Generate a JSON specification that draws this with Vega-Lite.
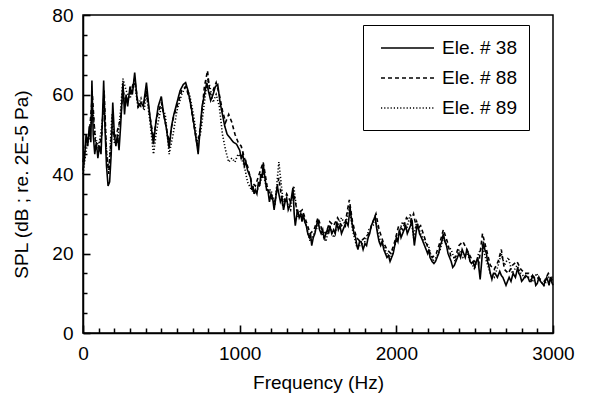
{
  "$schema": "https://vega.github.io/schema/vega-lite/v6.json",
  "autosize": {"type": "none"},
  "width": 470,
  "height": 318,
  "padding": {"left": 83, "top": 15, "right": 39, "bottom": 61},
  "background": "white",
  "config": {
    "font": "Liberation Sans",
    "view": {"stroke": "black", "strokeWidth": 1.5},
    "axis": {"labelFont": "Liberation Sans", "titleFont": "Liberation Sans", "labelColor": "black", "titleColor": "black", "domainColor": "black", "grid": false, "titleFontWeight": "normal"}
  },
  "data": {"values": [
    {"s":"38","f":0,"v":41},{"s":"38","f":10,"v":44},{"s":"38","f":20,"v":50},{"s":"38","f":30,"v":47},{"s":"38","f":40,"v":52},{"s":"38","f":50,"v":48},{"s":"38","f":57,"v":63.5},{"s":"38","f":65,"v":50},{"s":"38","f":75,"v":45},{"s":"38","f":85,"v":48},{"s":"38","f":95,"v":44},{"s":"38","f":105,"v":47},{"s":"38","f":115,"v":45},{"s":"38","f":125,"v":55},{"s":"38","f":132,"v":63.5},{"s":"38","f":140,"v":52},{"s":"38","f":150,"v":42},{"s":"38","f":160,"v":37},{"s":"38","f":170,"v":38},{"s":"38","f":180,"v":45},{"s":"38","f":190,"v":58},{"s":"38","f":200,"v":50},{"s":"38","f":210,"v":47},{"s":"38","f":220,"v":50},{"s":"38","f":230,"v":46},{"s":"38","f":240,"v":52},{"s":"38","f":255,"v":63},{"s":"38","f":265,"v":55},{"s":"38","f":275,"v":60},{"s":"38","f":285,"v":57},{"s":"38","f":300,"v":62},{"s":"38","f":315,"v":60},{"s":"38","f":330,"v":65.5},{"s":"38","f":345,"v":59},{"s":"38","f":355,"v":57},{"s":"38","f":370,"v":58},{"s":"38","f":385,"v":57},{"s":"38","f":405,"v":63},{"s":"38","f":420,"v":57},{"s":"38","f":435,"v":52},{"s":"38","f":450,"v":47.5},{"s":"38","f":465,"v":53},{"s":"38","f":480,"v":57},{"s":"38","f":500,"v":59.5},{"s":"38","f":515,"v":55},{"s":"38","f":530,"v":52},{"s":"38","f":550,"v":46.5},{"s":"38","f":565,"v":52},{"s":"38","f":580,"v":55},{"s":"38","f":600,"v":58},{"s":"38","f":620,"v":61},{"s":"38","f":640,"v":62.5},{"s":"38","f":655,"v":63},{"s":"38","f":670,"v":61},{"s":"38","f":690,"v":57},{"s":"38","f":710,"v":52},{"s":"38","f":725,"v":48},{"s":"38","f":735,"v":45},{"s":"38","f":745,"v":50},{"s":"38","f":760,"v":57},{"s":"38","f":775,"v":60},{"s":"38","f":790,"v":63},{"s":"38","f":800,"v":61},{"s":"38","f":815,"v":58.5},{"s":"38","f":830,"v":60},{"s":"38","f":845,"v":62},{"s":"38","f":860,"v":62.5},{"s":"38","f":875,"v":58},{"s":"38","f":890,"v":55},{"s":"38","f":905,"v":52},{"s":"38","f":920,"v":50},{"s":"38","f":940,"v":49},{"s":"38","f":960,"v":48},{"s":"38","f":980,"v":47.5},
    {"s":"38","f":1000,"v":46},{"s":"38","f":1010,"v":44},{"s":"38","f":1020,"v":45},{"s":"38","f":1030,"v":42},{"s":"38","f":1040,"v":43},{"s":"38","f":1050,"v":41},{"s":"38","f":1060,"v":40},{"s":"38","f":1070,"v":39},{"s":"38","f":1078,"v":36},{"s":"38","f":1085,"v":37},{"s":"38","f":1092,"v":35},{"s":"38","f":1100,"v":36},{"s":"38","f":1110,"v":35},{"s":"38","f":1120,"v":38},{"s":"38","f":1128,"v":37},{"s":"38","f":1135,"v":40},{"s":"38","f":1143,"v":39},{"s":"38","f":1150,"v":42.5},{"s":"38","f":1158,"v":40},{"s":"38","f":1165,"v":38},{"s":"38","f":1172,"v":36},{"s":"38","f":1180,"v":36},{"s":"38","f":1190,"v":33},{"s":"38","f":1200,"v":35},{"s":"38","f":1210,"v":34},{"s":"38","f":1220,"v":31},{"s":"38","f":1230,"v":34},{"s":"38","f":1240,"v":37},{"s":"38","f":1250,"v":35},{"s":"38","f":1260,"v":33},{"s":"38","f":1270,"v":34},{"s":"38","f":1280,"v":31},{"s":"38","f":1290,"v":33},{"s":"38","f":1300,"v":34},{"s":"38","f":1310,"v":31},{"s":"38","f":1320,"v":32},{"s":"38","f":1330,"v":34},{"s":"38","f":1340,"v":36.5},{"s":"38","f":1348,"v":30},{"s":"38","f":1355,"v":27},{"s":"38","f":1362,"v":29},{"s":"38","f":1370,"v":31},{"s":"38","f":1380,"v":29},{"s":"38","f":1390,"v":30},{"s":"38","f":1398,"v":28},{"s":"38","f":1405,"v":30},{"s":"38","f":1415,"v":28},{"s":"38","f":1425,"v":27},{"s":"38","f":1435,"v":25},{"s":"38","f":1445,"v":24},{"s":"38","f":1452,"v":25},{"s":"38","f":1460,"v":22},{"s":"38","f":1470,"v":24},{"s":"38","f":1480,"v":25},{"s":"38","f":1490,"v":27},{"s":"38","f":1500,"v":28.5},{"s":"38","f":1510,"v":26},{"s":"38","f":1520,"v":25},{"s":"38","f":1530,"v":26},{"s":"38","f":1540,"v":23.5},{"s":"38","f":1550,"v":25},{"s":"38","f":1560,"v":26},{"s":"38","f":1568,"v":25},{"s":"38","f":1575,"v":27},{"s":"38","f":1588,"v":25},{"s":"38","f":1600,"v":26},{"s":"38","f":1610,"v":25},{"s":"38","f":1620,"v":28},{"s":"38","f":1630,"v":26},{"s":"38","f":1640,"v":27},{"s":"38","f":1650,"v":25},{"s":"38","f":1660,"v":26},{"s":"38","f":1670,"v":27},{"s":"38","f":1680,"v":28},{"s":"38","f":1692,"v":27},{"s":"38","f":1705,"v":31.5},{"s":"38","f":1712,"v":29},{"s":"38","f":1720,"v":27},{"s":"38","f":1730,"v":25},{"s":"38","f":1740,"v":24},{"s":"38","f":1748,"v":22},{"s":"38","f":1755,"v":21},{"s":"38","f":1765,"v":23},{"s":"38","f":1775,"v":23},{"s":"38","f":1788,"v":21},{"s":"38","f":1800,"v":22.5},{"s":"38","f":1810,"v":22},{"s":"38","f":1820,"v":24},{"s":"38","f":1830,"v":25},{"s":"38","f":1840,"v":27},{"s":"38","f":1852,"v":28},{"s":"38","f":1865,"v":29.5},{"s":"38","f":1872,"v":27},{"s":"38","f":1880,"v":25},{"s":"38","f":1890,"v":23},{"s":"38","f":1900,"v":22},{"s":"38","f":1910,"v":23},{"s":"38","f":1920,"v":21},{"s":"38","f":1930,"v":20},{"s":"38","f":1940,"v":19},{"s":"38","f":1950,"v":19.5},{"s":"38","f":1960,"v":18},{"s":"38","f":1970,"v":19},{"s":"38","f":1980,"v":20},{"s":"38","f":1990,"v":22},{"s":"38","f":2000,"v":24},{"s":"38","f":2010,"v":23},{"s":"38","f":2020,"v":26},{"s":"38","f":2030,"v":24},{"s":"38","f":2040,"v":25},{"s":"38","f":2050,"v":26},{"s":"38","f":2060,"v":27},{"s":"38","f":2070,"v":25},{"s":"38","f":2080,"v":26},{"s":"38","f":2090,"v":27},{"s":"38","f":2100,"v":28.5},{"s":"38","f":2108,"v":25},{"s":"38","f":2115,"v":22},{"s":"38","f":2125,"v":25},{"s":"38","f":2135,"v":27.5},{"s":"38","f":2148,"v":25},{"s":"38","f":2160,"v":24},{"s":"38","f":2170,"v":23},{"s":"38","f":2180,"v":22},{"s":"38","f":2190,"v":21},{"s":"38","f":2200,"v":20},{"s":"38","f":2208,"v":21},{"s":"38","f":2215,"v":19},{"s":"38","f":2228,"v":18},{"s":"38","f":2240,"v":17.5},{"s":"38","f":2250,"v":18},{"s":"38","f":2260,"v":19},{"s":"38","f":2270,"v":20},{"s":"38","f":2280,"v":22},{"s":"38","f":2290,"v":23},{"s":"38","f":2300,"v":25},{"s":"38","f":2310,"v":23},{"s":"38","f":2320,"v":22},{"s":"38","f":2330,"v":20},{"s":"38","f":2340,"v":19},{"s":"38","f":2350,"v":18},{"s":"38","f":2360,"v":16.5},{"s":"38","f":2370,"v":17},{"s":"38","f":2380,"v":18},{"s":"38","f":2390,"v":19},{"s":"38","f":2400,"v":20},{"s":"38","f":2410,"v":19},{"s":"38","f":2420,"v":21},{"s":"38","f":2430,"v":20},{"s":"38","f":2440,"v":19},{"s":"38","f":2450,"v":21},{"s":"38","f":2460,"v":20},{"s":"38","f":2470,"v":18},{"s":"38","f":2480,"v":17.5},{"s":"38","f":2490,"v":18},{"s":"38","f":2500,"v":16.5},{"s":"38","f":2510,"v":18},{"s":"38","f":2520,"v":19},{"s":"38","f":2528,"v":16},{"s":"38","f":2535,"v":13.5},{"s":"38","f":2545,"v":18},{"s":"38","f":2555,"v":23},{"s":"38","f":2565,"v":21},{"s":"38","f":2575,"v":20},{"s":"38","f":2582,"v":18},{"s":"38","f":2590,"v":17},{"s":"38","f":2600,"v":15},{"s":"38","f":2610,"v":13.5},{"s":"38","f":2620,"v":15},{"s":"38","f":2630,"v":15},{"s":"38","f":2645,"v":14},{"s":"38","f":2660,"v":15.5},{"s":"38","f":2670,"v":14.5},{"s":"38","f":2680,"v":14},{"s":"38","f":2690,"v":13},{"s":"38","f":2700,"v":12},{"s":"38","f":2710,"v":13},{"s":"38","f":2720,"v":14},{"s":"38","f":2732,"v":13},{"s":"38","f":2745,"v":15},{"s":"38","f":2760,"v":14},{"s":"38","f":2775,"v":16.5},{"s":"38","f":2782,"v":15},{"s":"38","f":2790,"v":14.5},{"s":"38","f":2800,"v":13},{"s":"38","f":2810,"v":13.5},{"s":"38","f":2825,"v":14.5},{"s":"38","f":2840,"v":14},{"s":"38","f":2850,"v":13},{"s":"38","f":2860,"v":13},{"s":"38","f":2870,"v":14.5},{"s":"38","f":2880,"v":14},{"s":"38","f":2890,"v":12},{"s":"38","f":2900,"v":12.5},{"s":"38","f":2910,"v":14},{"s":"38","f":2920,"v":13},{"s":"38","f":2930,"v":12.5},{"s":"38","f":2940,"v":12},{"s":"38","f":2950,"v":13},{"s":"38","f":2960,"v":14},{"s":"38","f":2968,"v":13},{"s":"38","f":2975,"v":12},{"s":"38","f":2983,"v":14},{"s":"38","f":2990,"v":13},{"s":"38","f":3000,"v":12},
    {"s":"88","f":0,"v":43},{"s":"88","f":20,"v":48},{"s":"88","f":40,"v":50},{"s":"88","f":60,"v":60},{"s":"88","f":80,"v":47},{"s":"88","f":100,"v":46},{"s":"88","f":120,"v":50},{"s":"88","f":135,"v":61},{"s":"88","f":150,"v":45},{"s":"88","f":165,"v":40},{"s":"88","f":185,"v":52},{"s":"88","f":200,"v":49},{"s":"88","f":220,"v":51},{"s":"88","f":240,"v":54},{"s":"88","f":255,"v":61},{"s":"88","f":275,"v":58},{"s":"88","f":300,"v":60},{"s":"88","f":330,"v":64},{"s":"88","f":350,"v":58},{"s":"88","f":370,"v":57},{"s":"88","f":390,"v":58},{"s":"88","f":405,"v":61},{"s":"88","f":425,"v":55},{"s":"88","f":450,"v":49},{"s":"88","f":470,"v":54},{"s":"88","f":500,"v":58},{"s":"88","f":525,"v":53},{"s":"88","f":550,"v":48},{"s":"88","f":575,"v":54},{"s":"88","f":600,"v":57},{"s":"88","f":630,"v":61},{"s":"88","f":655,"v":62},{"s":"88","f":680,"v":59},{"s":"88","f":705,"v":53},{"s":"88","f":730,"v":47},{"s":"88","f":750,"v":52},{"s":"88","f":775,"v":62},{"s":"88","f":795,"v":66},{"s":"88","f":810,"v":60},{"s":"88","f":830,"v":61},{"s":"88","f":850,"v":63},{"s":"88","f":870,"v":60},{"s":"88","f":890,"v":56},{"s":"88","f":910,"v":53},{"s":"88","f":930,"v":55},{"s":"88","f":950,"v":53},{"s":"88","f":970,"v":50},{"s":"88","f":990,"v":48},{"s":"88","f":1010,"v":47},{"s":"88","f":1030,"v":44},{"s":"88","f":1050,"v":42},{"s":"88","f":1075,"v":38},{"s":"88","f":1100,"v":37},{"s":"88","f":1125,"v":40},{"s":"88","f":1150,"v":43},{"s":"88","f":1175,"v":37},{"s":"88","f":1200,"v":34},{"s":"88","f":1225,"v":33},{"s":"88","f":1250,"v":39},{"s":"88","f":1275,"v":32},{"s":"88","f":1300,"v":35},{"s":"88","f":1325,"v":33},{"s":"88","f":1345,"v":35},{"s":"88","f":1370,"v":30},{"s":"88","f":1400,"v":31},{"s":"88","f":1425,"v":28},{"s":"88","f":1450,"v":25},{"s":"88","f":1475,"v":26},{"s":"88","f":1500,"v":29},{"s":"88","f":1525,"v":26},{"s":"88","f":1550,"v":25},{"s":"88","f":1575,"v":28},{"s":"88","f":1600,"v":27},{"s":"88","f":1625,"v":29},{"s":"88","f":1650,"v":27},{"s":"88","f":1675,"v":28},{"s":"88","f":1700,"v":33.5},{"s":"88","f":1720,"v":28},{"s":"88","f":1745,"v":24},{"s":"88","f":1770,"v":23},{"s":"88","f":1800,"v":24},{"s":"88","f":1825,"v":25},{"s":"88","f":1850,"v":28},{"s":"88","f":1870,"v":30},{"s":"88","f":1890,"v":26},{"s":"88","f":1915,"v":23},{"s":"88","f":1940,"v":21},{"s":"88","f":1965,"v":20},{"s":"88","f":1990,"v":23},{"s":"88","f":2015,"v":27},{"s":"88","f":2040,"v":26},{"s":"88","f":2065,"v":29},{"s":"88","f":2090,"v":28},{"s":"88","f":2110,"v":30},{"s":"88","f":2130,"v":26},{"s":"88","f":2155,"v":27},{"s":"88","f":2180,"v":24},{"s":"88","f":2205,"v":21},{"s":"88","f":2230,"v":19},{"s":"88","f":2255,"v":20},{"s":"88","f":2280,"v":23},{"s":"88","f":2300,"v":26},{"s":"88","f":2325,"v":23},{"s":"88","f":2350,"v":19},{"s":"88","f":2375,"v":19},{"s":"88","f":2400,"v":22},{"s":"88","f":2425,"v":23},{"s":"88","f":2450,"v":21},{"s":"88","f":2475,"v":19},{"s":"88","f":2500,"v":18},{"s":"88","f":2525,"v":17},{"s":"88","f":2550,"v":25},{"s":"88","f":2575,"v":21},{"s":"88","f":2600,"v":17},{"s":"88","f":2625,"v":16},{"s":"88","f":2650,"v":18},{"s":"88","f":2670,"v":21},{"s":"88","f":2690,"v":16},{"s":"88","f":2715,"v":15},{"s":"88","f":2740,"v":17},{"s":"88","f":2770,"v":18},{"s":"88","f":2795,"v":16},{"s":"88","f":2820,"v":15},{"s":"88","f":2845,"v":15},{"s":"88","f":2870,"v":14},{"s":"88","f":2895,"v":14},{"s":"88","f":2920,"v":13.5},{"s":"88","f":2945,"v":13},{"s":"88","f":2970,"v":15},{"s":"88","f":3000,"v":13},
    {"s":"89","f":0,"v":40},{"s":"89","f":20,"v":46},{"s":"89","f":40,"v":49},{"s":"89","f":60,"v":57},{"s":"89","f":80,"v":49},{"s":"89","f":100,"v":47},{"s":"89","f":120,"v":52},{"s":"89","f":135,"v":58},{"s":"89","f":150,"v":46},{"s":"89","f":165,"v":41},{"s":"89","f":185,"v":55},{"s":"89","f":200,"v":48},{"s":"89","f":220,"v":48},{"s":"89","f":240,"v":56},{"s":"89","f":255,"v":64},{"s":"89","f":275,"v":61},{"s":"89","f":300,"v":59},{"s":"89","f":330,"v":63},{"s":"89","f":350,"v":57},{"s":"89","f":370,"v":59},{"s":"89","f":390,"v":56},{"s":"89","f":405,"v":60},{"s":"89","f":425,"v":54},{"s":"89","f":450,"v":45},{"s":"89","f":470,"v":51},{"s":"89","f":500,"v":57},{"s":"89","f":525,"v":55},{"s":"89","f":550,"v":45},{"s":"89","f":575,"v":50},{"s":"89","f":600,"v":56},{"s":"89","f":630,"v":60},{"s":"89","f":655,"v":62},{"s":"89","f":680,"v":60},{"s":"89","f":705,"v":55},{"s":"89","f":730,"v":48},{"s":"89","f":750,"v":50},{"s":"89","f":775,"v":58},{"s":"89","f":795,"v":64},{"s":"89","f":810,"v":62},{"s":"89","f":830,"v":58},{"s":"89","f":850,"v":60},{"s":"89","f":870,"v":57},{"s":"89","f":890,"v":50},{"s":"89","f":910,"v":46},{"s":"89","f":930,"v":43},{"s":"89","f":950,"v":44},{"s":"89","f":970,"v":43},{"s":"89","f":990,"v":45},{"s":"89","f":1010,"v":44},{"s":"89","f":1030,"v":42},{"s":"89","f":1050,"v":38},{"s":"89","f":1075,"v":36},{"s":"89","f":1100,"v":35},{"s":"89","f":1125,"v":37},{"s":"89","f":1150,"v":40},{"s":"89","f":1175,"v":36},{"s":"89","f":1200,"v":36},{"s":"89","f":1225,"v":32},{"s":"89","f":1250,"v":43},{"s":"89","f":1275,"v":34},{"s":"89","f":1300,"v":33},{"s":"89","f":1325,"v":31},{"s":"89","f":1345,"v":37},{"s":"89","f":1370,"v":29},{"s":"89","f":1400,"v":30},{"s":"89","f":1425,"v":27},{"s":"89","f":1450,"v":23},{"s":"89","f":1475,"v":25},{"s":"89","f":1500,"v":27},{"s":"89","f":1525,"v":25},{"s":"89","f":1550,"v":23},{"s":"89","f":1575,"v":27},{"s":"89","f":1600,"v":24},{"s":"89","f":1625,"v":27},{"s":"89","f":1650,"v":29},{"s":"89","f":1675,"v":27},{"s":"89","f":1700,"v":32},{"s":"89","f":1720,"v":26},{"s":"89","f":1745,"v":22},{"s":"89","f":1770,"v":22},{"s":"89","f":1800,"v":23},{"s":"89","f":1825,"v":26},{"s":"89","f":1850,"v":27},{"s":"89","f":1870,"v":28},{"s":"89","f":1890,"v":24},{"s":"89","f":1915,"v":22},{"s":"89","f":1940,"v":20},{"s":"89","f":1965,"v":19},{"s":"89","f":1990,"v":22},{"s":"89","f":2015,"v":25},{"s":"89","f":2040,"v":28},{"s":"89","f":2065,"v":26},{"s":"89","f":2090,"v":30},{"s":"89","f":2110,"v":24},{"s":"89","f":2130,"v":28},{"s":"89","f":2155,"v":25},{"s":"89","f":2180,"v":23},{"s":"89","f":2205,"v":22},{"s":"89","f":2230,"v":18},{"s":"89","f":2255,"v":19},{"s":"89","f":2280,"v":21},{"s":"89","f":2300,"v":24},{"s":"89","f":2325,"v":22},{"s":"89","f":2350,"v":21},{"s":"89","f":2375,"v":18},{"s":"89","f":2400,"v":21},{"s":"89","f":2425,"v":19},{"s":"89","f":2450,"v":20},{"s":"89","f":2475,"v":18},{"s":"89","f":2500,"v":16},{"s":"89","f":2525,"v":20},{"s":"89","f":2550,"v":22},{"s":"89","f":2575,"v":18},{"s":"89","f":2600,"v":15},{"s":"89","f":2625,"v":14},{"s":"89","f":2650,"v":17},{"s":"89","f":2670,"v":20},{"s":"89","f":2690,"v":17},{"s":"89","f":2715,"v":19},{"s":"89","f":2740,"v":15},{"s":"89","f":2770,"v":17},{"s":"89","f":2795,"v":15},{"s":"89","f":2820,"v":14},{"s":"89","f":2845,"v":14},{"s":"89","f":2870,"v":13},{"s":"89","f":2895,"v":15},{"s":"89","f":2920,"v":13},{"s":"89","f":2945,"v":12},{"s":"89","f":2970,"v":14},{"s":"89","f":3000,"v":14}
  ]},
  "resolve": {"scale": {"x": "independent", "y": "independent"}, "axis": {"x": "independent", "y": "independent"}},
  "layer": [
    {
      "mark": {"type": "point", "opacity": 0},
      "encoding": {
        "x": {"field": "f", "type": "quantitative", "scale": {"domain": [0, 3000], "nice": false, "zero": false},
          "axis": {"orient": "top", "offset": -318, "values": [100,200,300,400,500,600,700,800,900,1100,1200,1300,1400,1500,1600,1700,1800,1900,2100,2200,2300,2400,2500,2600,2700,2800,2900], "labels": false, "domain": false, "title": null, "tickSize": 5, "tickWidth": 1.5, "tickColor": "black"}},
        "y": {"field": "v", "type": "quantitative", "scale": {"domain": [0, 80], "nice": false, "zero": false},
          "axis": {"orient": "right", "offset": -470, "values": [5,10,15,25,30,35,45,50,55,65,70,75], "labels": false, "domain": false, "title": null, "tickSize": 4, "tickWidth": 1.5, "tickColor": "black"}}
      }
    },
    {
      "mark": {"type": "point", "opacity": 0},
      "encoding": {
        "x": {"field": "f", "type": "quantitative", "scale": {"domain": [0, 3000], "nice": false, "zero": false},
          "axis": {"orient": "top", "offset": -318, "values": [0, 1000, 2000, 3000], "labels": false, "domain": false, "title": null, "tickSize": 8, "tickWidth": 1.6, "tickColor": "black"}},
        "y": {"field": "v", "type": "quantitative", "scale": {"domain": [0, 80], "nice": false, "zero": false},
          "axis": {"orient": "right", "offset": -470, "values": [0, 20, 40, 60, 80], "labels": false, "domain": false, "title": null, "tickSize": 7, "tickWidth": 1.6, "tickColor": "black"}}
      }
    },
    {
      "mark": {"type": "line", "color": "black", "strokeWidth": 1.6, "interpolate": "linear"},
      "encoding": {
        "x": {"field": "f", "type": "quantitative", "scale": {"domain": [0, 3000], "nice": false, "zero": false},
          "axis": {"orient": "bottom", "values": [0, 1000, 2000, 3000], "format": "d", "title": "Frequency (Hz)", "titleFontSize": 19, "labelFontSize": 19, "ticks": false, "domainWidth": 1.5, "labelPadding": 11, "titlePadding": 10, "labelFlush": false}},
        "y": {"field": "v", "type": "quantitative", "scale": {"domain": [0, 80], "nice": false, "zero": false},
          "axis": {"orient": "left", "values": [0, 20, 40, 60, 80], "title": "SPL (dB ; re. 2E-5 Pa)", "titleFontSize": 19, "labelFontSize": 19, "ticks": false, "domainWidth": 1.5, "labelPadding": 10, "titlePadding": 20, "titleY": 169}},
        "detail": {"field": "s"},
        "strokeDash": {"field": "s", "type": "nominal", "scale": {"domain": ["38", "88", "89"], "range": [[1, 0], [4, 3], [1.2, 2]]},
          "legend": {"title": null, "orient": "none", "legendX": 280, "legendY": 10, "labelExpr": "'Ele. # ' + datum.label", "symbolType": "M-0.5,0H4.8", "symbolSize": 400, "symbolStrokeColor": "black", "symbolStrokeWidth": 1.5, "labelFontSize": 19, "labelFont": "Liberation Sans", "labelColor": "black", "labelOffset": 45, "rowPadding": 9, "padding": 12, "strokeColor": "black", "fillColor": "white"}}
      }
    }
  ]
}
